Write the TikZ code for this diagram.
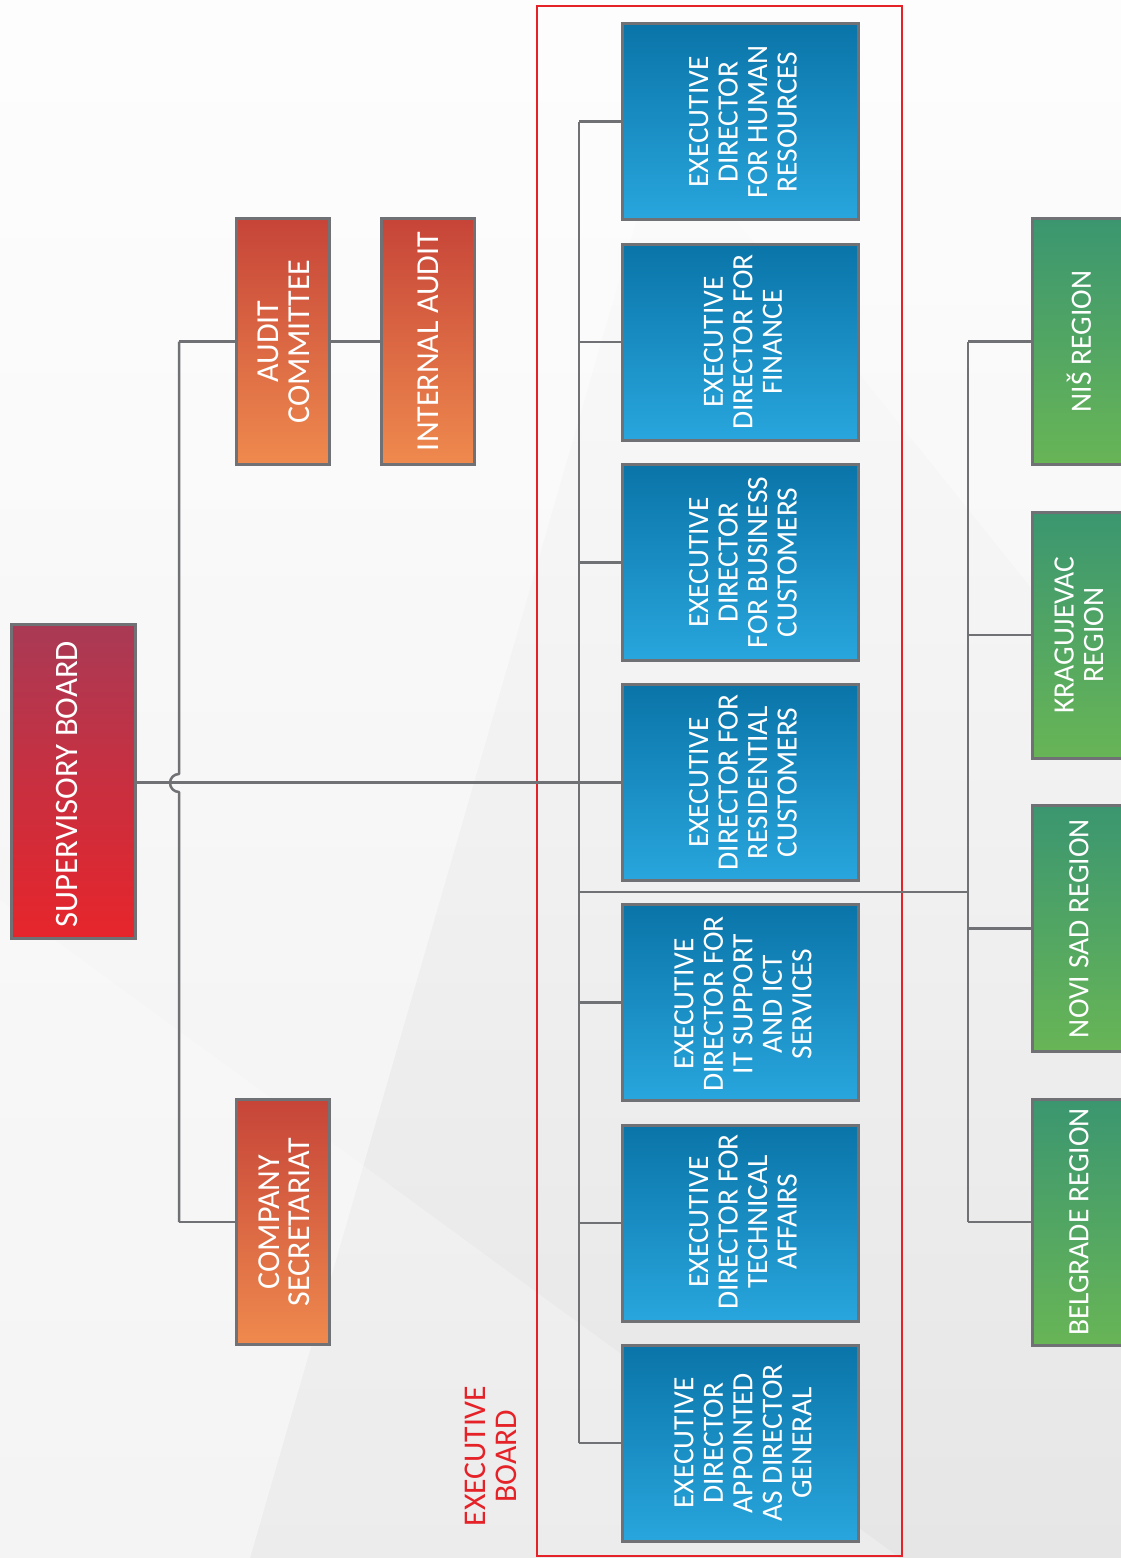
\documentclass[tikz,border=0pt]{standalone}
\usepackage{fontspec}
\setmainfont{Carlito}
\definecolor{blueTop}{HTML}{0A74A8}
\definecolor{blueBot}{HTML}{28A6DD}
\definecolor{redTop}{HTML}{A93A55}
\definecolor{redBot}{HTML}{E7252B}
\definecolor{orTop}{HTML}{C64438}
\definecolor{orBot}{HTML}{EF8A4E}
\definecolor{grTop}{HTML}{3B9670}
\definecolor{grBot}{HTML}{68B556}
\definecolor{lineGray}{HTML}{707174}
\definecolor{frameRed}{HTML}{E52228}
\definecolor{bgA}{HTML}{FDFDFD}
\definecolor{bgB}{HTML}{E6E6E6}
\tikzset{
  box/.style={draw=lineGray, line width=3pt, inner sep=0pt, rectangle},
  bluebox/.style={box, top color=blueTop, bottom color=blueBot, minimum width=236pt, minimum height=196pt},
  redbox/.style={box, top color=redTop, bottom color=redBot},
  orbox/.style={box, top color=orTop, bottom color=orBot, minimum width=93pt, minimum height=246pt},
  grbox/.style={box, top color=grTop, bottom color=grBot, minimum width=93pt, minimum height=246pt},
  txt/.style={rotate=90, text=white, align=center, inner sep=0pt},
  bluetxt/.style={txt, font=\fontsize{29.4}{29.5}\selectfont},
  ortxt/.style={txt, font=\fontsize{32}{30.5}\selectfont},
  grtxt/.style={txt, font=\fontsize{29.5}{29.5}\selectfont},
  conn/.style={draw=lineGray, line width=2.5pt},
  frame/.style={draw=frameRed, line width=2.5pt}
}
\begin{document}
\begin{tikzpicture}[x=1pt, y=-1pt]
\useasboundingbox (0,0) rectangle (1121,1558);
% background
\shade[top color=bgA, bottom color=bgB] (0,0) rectangle (1121,1558);
\fill[white, opacity=0.45] (0,0) -- (700,0) -- (250,1558) -- (0,1558) -- cycle;
\fill[white, opacity=0.35] (560,0) -- (1121,0) -- (1121,700) -- cycle;
\fill[white, opacity=0.25] (0,900) -- (900,1558) -- (0,1558) -- cycle;

% red frame (executive board)
\draw[frame] (537,6) rectangle (902,1556);
\node[rotate=90, text=frameRed, align=center, inner sep=0pt, font=\fontsize{31.6}{31}\selectfont] (ebt) at (491,1456) {EXECUTIVE\\BOARD};

% supervisory board
\node[redbox, minimum width=124pt, minimum height=314pt] (sb) at (73.5,781.5) {};
\node[txt, font=\fontsize{32.7}{32}\selectfont] (sbt) at (67,784) {SUPERVISORY BOARD};

% orange boxes
\node[orbox] (ac) at (283,341.5) {};
\node[ortxt] (act) at (284,341.5) {AUDIT\\COMMITTEE};
\node[orbox] (ia) at (427.5,341.5) {};
\node[ortxt] (iat) at (428,341.5) {INTERNAL AUDIT};
\node[orbox, minimum height=245pt] (cs) at (283,1222) {};
\node[ortxt] (cst) at (284,1222) {COMPANY\\SECRETARIAT};

% blue boxes
\node[bluebox] (hr) at (740.5,121.5) {};
\node[bluetxt] (hrt) at (743,122) {EXECUTIVE\\DIRECTOR\\FOR HUMAN\\RESOURCES};
\node[bluebox] (fin) at (740.5,342) {};
\node[bluetxt] (fint) at (743,342) {EXECUTIVE\\DIRECTOR FOR\\FINANCE};
\node[bluebox] (bus) at (740.5,562.5) {};
\node[bluetxt] (bust) at (743,562.5) {EXECUTIVE\\DIRECTOR\\FOR BUSINESS\\CUSTOMERS};
\node[bluebox] (res) at (740.5,782.5) {};
\node[bluetxt] (rest) at (743,782.5) {EXECUTIVE\\DIRECTOR FOR\\RESIDENTIAL\\CUSTOMERS};
\node[bluebox] (it) at (740.5,1002.5) {};
\node[bluetxt] (itt) at (743,1004) {EXECUTIVE\\DIRECTOR FOR\\IT SUPPORT\\AND ICT\\SERVICES};
\node[bluebox] (tech) at (740.5,1223) {};
\node[bluetxt] (techt) at (743,1222) {EXECUTIVE\\DIRECTOR FOR\\TECHNICAL\\AFFAIRS};
\node[bluebox] (gen) at (740.5,1443) {};
\node[bluetxt] (gent) at (743,1443) {EXECUTIVE\\DIRECTOR\\APPOINTED\\AS DIRECTOR\\GENERAL};

% green boxes
\node[grbox] (nis) at (1079,341.5) {};
\node[grtxt] (nist) at (1079,341.5) {NIŠ REGION};
\node[grbox] (kg) at (1079,635) {};
\node[grtxt] (kgt) at (1079,635) {KRAGUJEVAC\\REGION};
\node[grbox] (ns) at (1079,928.5) {};
\node[grtxt] (nst) at (1079,928.5) {NOVI SAD REGION};
\node[grbox] (bg) at (1079,1222) {};
\node[grtxt] (bgt) at (1079,1222) {BELGRADE REGION};

% bus coordinates
\coordinate (lx) at (179,0);
\coordinate (bx) at (579,0);
\coordinate (gx) at (968,0);
\coordinate (jt) at (179,774);
\coordinate (jb) at (179,792);
\coordinate (eb) at (579,892);
\coordinate (ge) at (968,892);

% left bus with jump
\draw[conn, line join=round] (ac.west -| lx) -- (jt) arc[start angle=90, end angle=270, radius=9pt] -- (jb) -- (cs.west -| lx);
\draw[conn] (ac.west -| lx) -- (ac.west);
\draw[conn] (cs.west -| lx) -- (cs.west);
\draw[conn] (ac.east) -- (ia.west);

% main line
\draw[conn] (sb.east |- res.west) -- (res.west);

% blue bus
\draw[conn] (hr.west -| bx) -- (gen.west -| bx);
\foreach \n in {hr,fin,bus,res,it,tech,gen}
  \draw[conn] (\n.west -| bx) -- (\n.west);

% to regions
\draw[conn] (eb) -- (ge);
\draw[conn] (nis.west -| gx) -- (bg.west -| gx);
\foreach \n in {nis,kg,ns,bg}
  \draw[conn] (\n.west -| gx) -- (\n.west);
\end{tikzpicture}
\end{document}
